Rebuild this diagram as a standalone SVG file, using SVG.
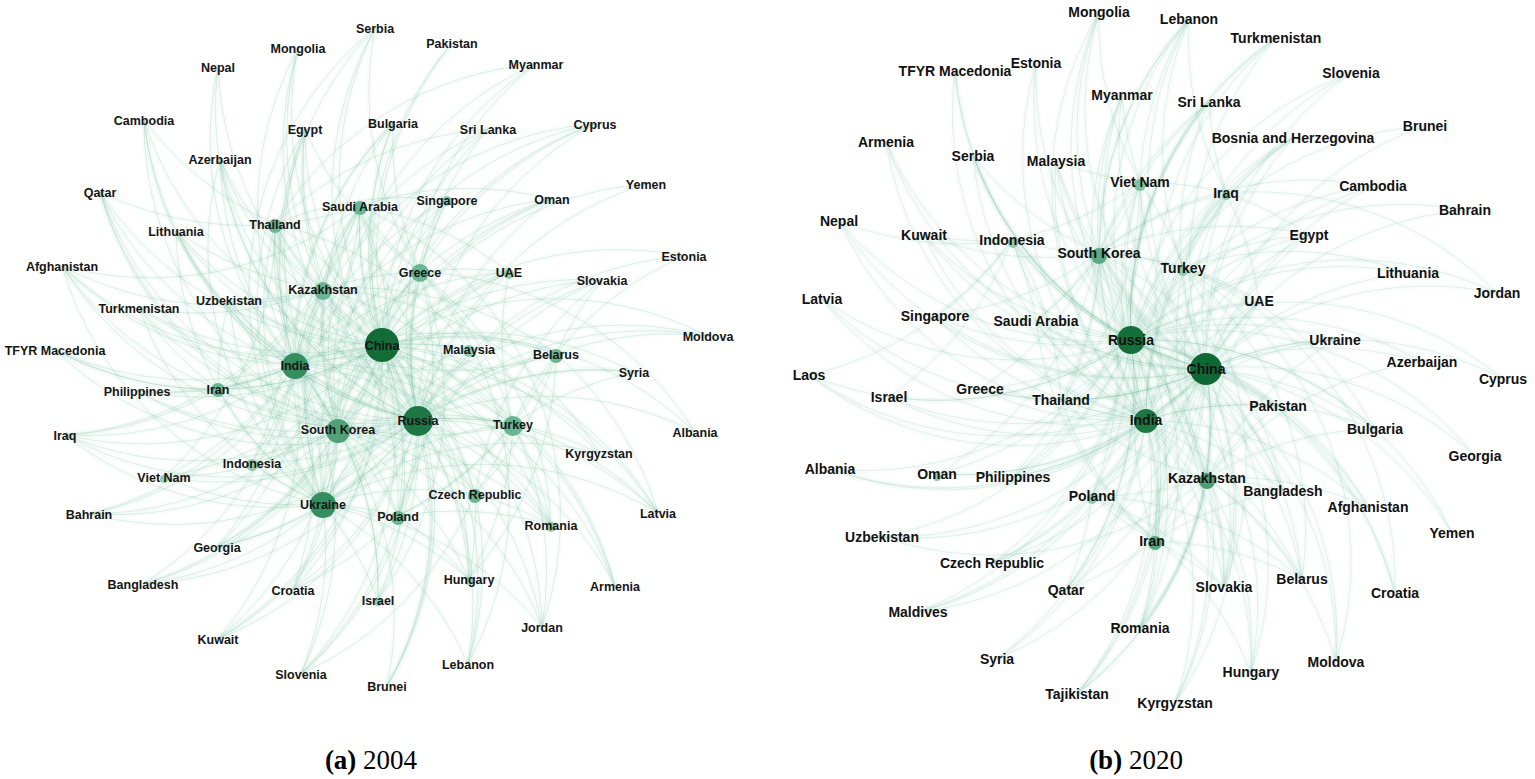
<svg xmlns="http://www.w3.org/2000/svg" xmlns:xlink="http://www.w3.org/1999/xlink" width="1535" height="779" viewBox="0 0 1535 779">
<style>
.bg{fill:#fff}
.ew{fill:none;stroke:#58a884;stroke-opacity:0.24;stroke-width:0.8}
.ew2{fill:none;stroke:#58a884;stroke-opacity:0.2;stroke-width:0.8}
.halo{fill:none;stroke:#8fcdb0;stroke-opacity:0.045;stroke-width:6}
.a{font-family:"Liberation Sans",Arial,sans-serif;font-weight:bold;font-size:12.5px;fill:#151515;text-anchor:middle}
.b{font-family:"Liberation Sans",Arial,sans-serif;font-weight:bold;font-size:14px;fill:#111;text-anchor:middle}
.cap{font-family:"Liberation Serif","Times New Roman",serif;font-size:27px;fill:#000;text-anchor:middle}
.k1{fill:#136b38}.k1b{fill:#1d7644}.k2{fill:#358d60}.k3{fill:#4fa277}.k4{fill:#6ab692}.k5{fill:#90caae}
</style>
<rect class="bg" x="0" y="0" width="1535" height="779"/>
<use xlink:href="#e04" href="#e04" class="halo"/>
<g id="connectors-2004" class="ew"><g id="e04">
<path d="M382 345A340 340 0 0 1 375 28"/><path d="M382 345A340 340 0 0 1 298 48"/><path d="M382 345A340 340 0 0 1 452 43"/><path d="M382 345A340 340 0 0 1 218 67"/><path d="M382 345A340 340 0 0 1 536 64"/><path d="M382 345A340 340 0 0 1 144 120"/><path d="M382 345A340 340 0 0 1 305 129"/><path d="M382 345A340 340 0 0 1 393 123"/><path d="M382 345A340 340 0 0 1 488 129"/><path d="M382 345A340 340 0 0 1 595 124"/><path d="M382 345A340 340 0 0 1 220 159"/><path d="M382 345A340 340 0 0 1 100 192"/><path d="M382 345A340 340 0 0 1 360 206"/><path d="M382 345A340 340 0 0 1 447 200"/><path d="M382 345A340 340 0 0 1 552 199"/><path d="M382 345A340 340 0 0 1 646 184"/><path d="M382 345A340 340 0 0 1 275 224"/><path d="M382 345A340 340 0 0 1 176 231"/><path d="M382 345A340 340 0 0 1 62 266"/><path d="M382 345A340 340 0 0 1 420 272"/><path d="M382 345A340 340 0 0 1 509 272"/><path d="M382 345A340 340 0 0 1 602 280"/><path d="M382 345A340 340 0 0 1 684 256"/><path d="M382 345A340 340 0 0 1 139 308"/><path d="M382 345A340 340 0 0 1 229 300"/><path d="M382 345A340 340 0 0 1 323 289"/><path d="M382 345A340 340 0 0 1 708 336"/><path d="M382 345A340 340 0 0 1 55 350"/><path d="M382 345A340 340 0 0 1 469 349"/><path d="M382 345A340 340 0 0 1 556 354"/><path d="M382 345A340 340 0 0 1 295 365"/><path d="M382 345A340 340 0 0 1 137 391"/><path d="M382 345A340 340 0 0 1 218 389"/><path d="M382 345A340 340 0 0 1 634 372"/><path d="M382 345A340 340 0 0 1 338 429"/><path d="M382 345A340 340 0 0 1 418 420"/><path d="M382 345A340 340 0 0 1 513 424"/><path d="M382 345A340 340 0 0 1 695 432"/><path d="M382 345A340 340 0 0 1 65 435"/><path d="M382 345A340 340 0 0 1 252 463"/><path d="M382 345A340 340 0 0 1 599 453"/><path d="M382 345A340 340 0 0 1 164 477"/><path d="M382 345A340 340 0 0 1 323 504"/><path d="M382 345A340 340 0 0 1 475 494"/><path d="M382 345A340 340 0 0 1 89 514"/><path d="M382 345A340 340 0 0 1 398 516"/><path d="M382 345A340 340 0 0 1 551 525"/><path d="M382 345A340 340 0 0 1 658 513"/><path d="M382 345A340 340 0 0 1 217 547"/><path d="M382 345A340 340 0 0 1 143 584"/><path d="M382 345A340 340 0 0 1 293 590"/><path d="M382 345A340 340 0 0 1 469 579"/><path d="M382 345A340 340 0 0 1 615 586"/><path d="M382 345A340 340 0 0 1 378 600"/><path d="M382 345A340 340 0 0 1 542 627"/><path d="M382 345A340 340 0 0 1 218 639"/><path d="M382 345A340 340 0 0 1 468 664"/><path d="M382 345A340 340 0 0 1 301 674"/><path d="M382 345A340 340 0 0 1 387 686"/>
<path d="M418 420A340 340 0 0 1 375 28"/><path d="M418 420A340 340 0 0 1 298 48"/><path d="M418 420A340 340 0 0 1 452 43"/><path d="M418 420A340 340 0 0 1 218 67"/><path d="M418 420A340 340 0 0 1 536 64"/><path d="M418 420A340 340 0 0 1 144 120"/><path d="M418 420A340 340 0 0 1 305 129"/><path d="M418 420A340 340 0 0 1 393 123"/><path d="M418 420A340 340 0 0 1 488 129"/><path d="M418 420A340 340 0 0 1 595 124"/><path d="M418 420A340 340 0 0 1 220 159"/><path d="M418 420A340 340 0 0 1 100 192"/><path d="M418 420A340 340 0 0 1 360 206"/><path d="M418 420A340 340 0 0 1 447 200"/><path d="M418 420A340 340 0 0 1 552 199"/><path d="M418 420A340 340 0 0 1 646 184"/><path d="M418 420A340 340 0 0 1 275 224"/><path d="M418 420A340 340 0 0 1 176 231"/><path d="M418 420A340 340 0 0 1 62 266"/><path d="M418 420A340 340 0 0 1 420 272"/><path d="M418 420A340 340 0 0 1 509 272"/><path d="M418 420A340 340 0 0 1 602 280"/><path d="M418 420A340 340 0 0 1 684 256"/><path d="M418 420A340 340 0 0 1 139 308"/><path d="M418 420A340 340 0 0 1 229 300"/><path d="M418 420A340 340 0 0 1 323 289"/><path d="M418 420A340 340 0 0 1 708 336"/><path d="M418 420A340 340 0 0 1 55 350"/><path d="M418 420A340 340 0 0 1 469 349"/><path d="M418 420A340 340 0 0 1 556 354"/><path d="M418 420A340 340 0 0 1 295 365"/><path d="M418 420A340 340 0 0 1 137 391"/><path d="M418 420A340 340 0 0 1 218 389"/><path d="M418 420A340 340 0 0 1 634 372"/><path d="M418 420A340 340 0 0 1 338 429"/><path d="M418 420A340 340 0 0 1 513 424"/><path d="M418 420A340 340 0 0 1 695 432"/><path d="M418 420A340 340 0 0 1 65 435"/><path d="M418 420A340 340 0 0 1 252 463"/><path d="M418 420A340 340 0 0 1 599 453"/><path d="M418 420A340 340 0 0 1 164 477"/><path d="M418 420A340 340 0 0 1 323 504"/><path d="M418 420A340 340 0 0 1 475 494"/><path d="M418 420A340 340 0 0 1 89 514"/><path d="M418 420A340 340 0 0 1 398 516"/><path d="M418 420A340 340 0 0 1 551 525"/><path d="M418 420A340 340 0 0 1 658 513"/><path d="M418 420A340 340 0 0 1 217 547"/><path d="M418 420A340 340 0 0 1 143 584"/><path d="M418 420A340 340 0 0 1 293 590"/><path d="M418 420A340 340 0 0 1 469 579"/><path d="M418 420A340 340 0 0 1 615 586"/><path d="M418 420A340 340 0 0 1 378 600"/><path d="M418 420A340 340 0 0 1 542 627"/><path d="M418 420A340 340 0 0 1 218 639"/><path d="M418 420A340 340 0 0 1 468 664"/><path d="M418 420A340 340 0 0 1 301 674"/><path d="M418 420A340 340 0 0 1 387 686"/>
<path d="M295 365A340 340 0 0 1 375 28"/><path d="M295 365A340 340 0 0 1 218 67"/><path d="M295 365A340 340 0 0 1 144 120"/><path d="M295 365A340 340 0 0 1 305 129"/><path d="M295 365A340 340 0 0 1 393 123"/><path d="M295 365A340 340 0 0 1 488 129"/><path d="M295 365A340 340 0 0 1 595 124"/><path d="M295 365A340 340 0 0 1 220 159"/><path d="M295 365A340 340 0 0 1 100 192"/><path d="M295 365A340 340 0 0 1 360 206"/><path d="M295 365A340 340 0 0 1 447 200"/><path d="M295 365A340 340 0 0 1 552 199"/><path d="M295 365A340 340 0 0 1 275 224"/><path d="M295 365A340 340 0 0 1 176 231"/><path d="M295 365A340 340 0 0 1 62 266"/><path d="M295 365A340 340 0 0 1 420 272"/><path d="M295 365A340 340 0 0 1 509 272"/><path d="M295 365A340 340 0 0 1 139 308"/><path d="M295 365A340 340 0 0 1 229 300"/><path d="M295 365A340 340 0 0 1 323 289"/><path d="M295 365A340 340 0 0 1 55 350"/><path d="M295 365A340 340 0 0 1 469 349"/><path d="M295 365A340 340 0 0 1 556 354"/><path d="M295 365A340 340 0 0 1 137 391"/><path d="M295 365A340 340 0 0 1 218 389"/><path d="M295 365A340 340 0 0 1 338 429"/><path d="M295 365A340 340 0 0 1 513 424"/><path d="M295 365A340 340 0 0 1 65 435"/><path d="M295 365A340 340 0 0 1 252 463"/><path d="M295 365A340 340 0 0 1 164 477"/><path d="M295 365A340 340 0 0 1 323 504"/><path d="M295 365A340 340 0 0 1 475 494"/><path d="M295 365A340 340 0 0 1 89 514"/><path d="M295 365A340 340 0 0 1 398 516"/><path d="M295 365A340 340 0 0 1 551 525"/><path d="M295 365A340 340 0 0 1 217 547"/><path d="M295 365A340 340 0 0 1 143 584"/><path d="M295 365A340 340 0 0 1 293 590"/><path d="M295 365A340 340 0 0 1 378 600"/><path d="M295 365A340 340 0 0 1 218 639"/><path d="M295 365A340 340 0 0 1 301 674"/><path d="M295 365A340 340 0 0 1 615 586"/><path d="M295 365A340 340 0 0 1 658 513"/>
<path d="M338 429A340 340 0 0 1 298 48"/><path d="M338 429A340 340 0 0 1 536 64"/><path d="M338 429A340 340 0 0 1 144 120"/><path d="M338 429A340 340 0 0 1 305 129"/><path d="M338 429A340 340 0 0 1 393 123"/><path d="M338 429A340 340 0 0 1 488 129"/><path d="M338 429A340 340 0 0 1 100 192"/><path d="M338 429A340 340 0 0 1 360 206"/><path d="M338 429A340 340 0 0 1 447 200"/><path d="M338 429A340 340 0 0 1 552 199"/><path d="M338 429A340 340 0 0 1 275 224"/><path d="M338 429A340 340 0 0 1 420 272"/><path d="M338 429A340 340 0 0 1 509 272"/><path d="M338 429A340 340 0 0 1 602 280"/><path d="M338 429A340 340 0 0 1 229 300"/><path d="M338 429A340 340 0 0 1 323 289"/><path d="M338 429A340 340 0 0 1 469 349"/><path d="M338 429A340 340 0 0 1 137 391"/><path d="M338 429A340 340 0 0 1 218 389"/><path d="M338 429A340 340 0 0 1 513 424"/><path d="M338 429A340 340 0 0 1 252 463"/><path d="M338 429A340 340 0 0 1 164 477"/><path d="M338 429A340 340 0 0 1 323 504"/><path d="M338 429A340 340 0 0 1 475 494"/><path d="M338 429A340 340 0 0 1 89 514"/><path d="M338 429A340 340 0 0 1 398 516"/><path d="M338 429A340 340 0 0 1 551 525"/><path d="M338 429A340 340 0 0 1 217 547"/><path d="M338 429A340 340 0 0 1 143 584"/><path d="M338 429A340 340 0 0 1 293 590"/><path d="M338 429A340 340 0 0 1 469 579"/><path d="M338 429A340 340 0 0 1 378 600"/><path d="M338 429A340 340 0 0 1 542 627"/><path d="M338 429A340 340 0 0 1 218 639"/><path d="M338 429A340 340 0 0 1 387 686"/><path d="M338 429A340 340 0 0 1 65 435"/>
<path d="M323 504A340 340 0 0 1 375 28"/><path d="M323 504A340 340 0 0 1 305 129"/><path d="M323 504A340 340 0 0 1 393 123"/><path d="M323 504A340 340 0 0 1 595 124"/><path d="M323 504A340 340 0 0 1 220 159"/><path d="M323 504A340 340 0 0 1 360 206"/><path d="M323 504A340 340 0 0 1 275 224"/><path d="M323 504A340 340 0 0 1 176 231"/><path d="M323 504A340 340 0 0 1 62 266"/><path d="M323 504A340 340 0 0 1 420 272"/><path d="M323 504A340 340 0 0 1 509 272"/><path d="M323 504A340 340 0 0 1 139 308"/><path d="M323 504A340 340 0 0 1 229 300"/><path d="M323 504A340 340 0 0 1 323 289"/><path d="M323 504A340 340 0 0 1 708 336"/><path d="M323 504A340 340 0 0 1 556 354"/><path d="M323 504A340 340 0 0 1 218 389"/><path d="M323 504A340 340 0 0 1 634 372"/><path d="M323 504A340 340 0 0 1 513 424"/><path d="M323 504A340 340 0 0 1 65 435"/><path d="M323 504A340 340 0 0 1 252 463"/><path d="M323 504A340 340 0 0 1 164 477"/><path d="M323 504A340 340 0 0 1 475 494"/><path d="M323 504A340 340 0 0 1 398 516"/><path d="M323 504A340 340 0 0 1 217 547"/><path d="M323 504A340 340 0 0 1 293 590"/><path d="M323 504A340 340 0 0 1 469 579"/><path d="M323 504A340 340 0 0 1 378 600"/><path d="M323 504A340 340 0 0 1 542 627"/><path d="M323 504A340 340 0 0 1 658 513"/><path d="M323 504A340 340 0 0 1 301 674"/><path d="M323 504A340 340 0 0 1 468 664"/><path d="M323 504A340 340 0 0 1 143 584"/><path d="M323 504A340 340 0 0 1 599 453"/>
<path d="M323 289A340 340 0 0 1 298 48"/><path d="M323 289A340 340 0 0 1 305 129"/><path d="M323 289A340 340 0 0 1 220 159"/><path d="M323 289A340 340 0 0 1 176 231"/><path d="M323 289A340 340 0 0 1 62 266"/><path d="M323 289A340 340 0 0 1 139 308"/><path d="M323 289A340 340 0 0 1 229 300"/><path d="M323 289A340 340 0 0 1 218 389"/><path d="M323 289A340 340 0 0 1 275 224"/><path d="M323 289A340 340 0 0 1 360 206"/><path d="M323 289A340 340 0 0 1 420 272"/><path d="M323 289A340 340 0 0 1 513 424"/><path d="M323 289A340 340 0 0 1 556 354"/><path d="M323 289A340 340 0 0 1 599 453"/><path d="M323 289A340 340 0 0 1 398 516"/><path d="M323 289A340 340 0 0 1 475 494"/><path d="M323 289A340 340 0 0 1 217 547"/>
<path d="M420 272A340 340 0 0 1 375 28"/><path d="M420 272A340 340 0 0 1 393 123"/><path d="M420 272A340 340 0 0 1 595 124"/><path d="M420 272A340 340 0 0 1 305 129"/><path d="M420 272A340 340 0 0 1 360 206"/><path d="M420 272A340 340 0 0 1 447 200"/><path d="M420 272A340 340 0 0 1 552 199"/><path d="M420 272A340 340 0 0 1 695 432"/><path d="M420 272A340 340 0 0 1 509 272"/><path d="M420 272A340 340 0 0 1 513 424"/><path d="M420 272A340 340 0 0 1 551 525"/><path d="M420 272A340 340 0 0 1 398 516"/><path d="M420 272A340 340 0 0 1 468 664"/><path d="M420 272A340 340 0 0 1 378 600"/><path d="M420 272A340 340 0 0 1 218 389"/>
<path d="M513 424A340 340 0 0 1 220 159"/><path d="M513 424A340 340 0 0 1 100 192"/><path d="M513 424A340 340 0 0 1 360 206"/><path d="M513 424A340 340 0 0 1 509 272"/><path d="M513 424A340 340 0 0 1 556 354"/><path d="M513 424A340 340 0 0 1 634 372"/><path d="M513 424A340 340 0 0 1 551 525"/><path d="M513 424A340 340 0 0 1 658 513"/><path d="M513 424A340 340 0 0 1 615 586"/><path d="M513 424A340 340 0 0 1 542 627"/><path d="M513 424A340 340 0 0 1 475 494"/><path d="M513 424A340 340 0 0 1 398 516"/><path d="M513 424A340 340 0 0 1 469 579"/>
<path d="M556 354A340 340 0 0 1 176 231"/><path d="M556 354A340 340 0 0 1 684 256"/><path d="M556 354A340 340 0 0 1 602 280"/><path d="M556 354A340 340 0 0 1 708 336"/><path d="M556 354A340 340 0 0 1 658 513"/><path d="M556 354A340 340 0 0 1 475 494"/><path d="M556 354A340 340 0 0 1 398 516"/><path d="M556 354A340 340 0 0 1 469 579"/>
<path d="M275 224A340 340 0 0 1 144 120"/><path d="M275 224A340 340 0 0 1 536 64"/><path d="M275 224A340 340 0 0 1 488 129"/><path d="M275 224A340 340 0 0 1 447 200"/><path d="M275 224A340 340 0 0 1 469 349"/><path d="M275 224A340 340 0 0 1 164 477"/><path d="M275 224A340 340 0 0 1 252 463"/><path d="M275 224A340 340 0 0 1 387 686"/>
<path d="M360 206A340 340 0 0 1 100 192"/><path d="M360 206A340 340 0 0 1 552 199"/><path d="M360 206A340 340 0 0 1 509 272"/><path d="M360 206A340 340 0 0 1 62 266"/><path d="M360 206A340 340 0 0 1 65 435"/><path d="M360 206A340 340 0 0 1 89 514"/><path d="M360 206A340 340 0 0 1 218 639"/><path d="M360 206A340 340 0 0 1 542 627"/>
<path d="M218 389A340 340 0 0 1 139 308"/><path d="M218 389A340 340 0 0 1 55 350"/><path d="M218 389A340 340 0 0 1 137 391"/><path d="M218 389A340 340 0 0 1 65 435"/><path d="M218 389A340 340 0 0 1 229 300"/><path d="M218 389A340 340 0 0 1 62 266"/>
<path d="M398 516A340 340 0 0 1 602 280"/><path d="M398 516A340 340 0 0 1 551 525"/><path d="M398 516A340 340 0 0 1 469 579"/><path d="M398 516A340 340 0 0 1 301 674"/><path d="M398 516A340 340 0 0 1 293 590"/>
<path d="M475 494A340 340 0 0 1 602 280"/><path d="M475 494A340 340 0 0 1 551 525"/><path d="M475 494A340 340 0 0 1 469 579"/><path d="M475 494A340 340 0 0 1 468 664"/><path d="M475 494A340 340 0 0 1 301 674"/>
</g></g>
<use xlink:href="#e20" href="#e20" class="halo"/>
<g id="connectors-2020" class="ew2"><g id="e20">
<path d="M1206 369A340 340 0 0 1 1099 12"/><path d="M1206 369A340 340 0 0 1 1189 19"/><path d="M1206 369A340 340 0 0 1 1276 38"/><path d="M1206 369A340 340 0 0 1 955 71"/><path d="M1206 369A340 340 0 0 1 1036 63"/><path d="M1206 369A340 340 0 0 1 1351 73"/><path d="M1206 369A340 340 0 0 1 1122 95"/><path d="M1206 369A340 340 0 0 1 1209 102"/><path d="M1206 369A340 340 0 0 1 886 142"/><path d="M1206 369A340 340 0 0 1 1425 126"/><path d="M1206 369A340 340 0 0 1 1293 138"/><path d="M1206 369A340 340 0 0 1 973 156"/><path d="M1206 369A340 340 0 0 1 1056 161"/><path d="M1206 369A340 340 0 0 1 1140 182"/><path d="M1206 369A340 340 0 0 1 1226 193"/><path d="M1206 369A340 340 0 0 1 1373 186"/><path d="M1206 369A340 340 0 0 1 839 221"/><path d="M1206 369A340 340 0 0 1 1465 210"/><path d="M1206 369A340 340 0 0 1 924 235"/><path d="M1206 369A340 340 0 0 1 1012 240"/><path d="M1206 369A340 340 0 0 1 1099 253"/><path d="M1206 369A340 340 0 0 1 1309 235"/><path d="M1206 369A340 340 0 0 1 1183 268"/><path d="M1206 369A340 340 0 0 1 1408 273"/><path d="M1206 369A340 340 0 0 1 822 299"/><path d="M1206 369A340 340 0 0 1 935 316"/><path d="M1206 369A340 340 0 0 1 1036 321"/><path d="M1206 369A340 340 0 0 1 1259 301"/><path d="M1206 369A340 340 0 0 1 1497 293"/><path d="M1206 369A340 340 0 0 1 1131 340"/><path d="M1206 369A340 340 0 0 1 1335 340"/><path d="M1206 369A340 340 0 0 1 1422 362"/><path d="M1206 369A340 340 0 0 1 809 375"/><path d="M1206 369A340 340 0 0 1 1503 379"/><path d="M1206 369A340 340 0 0 1 889 397"/><path d="M1206 369A340 340 0 0 1 980 389"/><path d="M1206 369A340 340 0 0 1 1061 400"/><path d="M1206 369A340 340 0 0 1 1278 406"/><path d="M1206 369A340 340 0 0 1 1146 420"/><path d="M1206 369A340 340 0 0 1 1375 429"/><path d="M1206 369A340 340 0 0 1 830 469"/><path d="M1206 369A340 340 0 0 1 937 474"/><path d="M1206 369A340 340 0 0 1 1013 477"/><path d="M1206 369A340 340 0 0 1 1475 456"/><path d="M1206 369A340 340 0 0 1 1207 478"/><path d="M1206 369A340 340 0 0 1 1283 491"/><path d="M1206 369A340 340 0 0 1 1092 496"/><path d="M1206 369A340 340 0 0 1 1368 507"/><path d="M1206 369A340 340 0 0 1 882 537"/><path d="M1206 369A340 340 0 0 1 1155 541"/><path d="M1206 369A340 340 0 0 1 1452 533"/><path d="M1206 369A340 340 0 0 1 992 563"/><path d="M1206 369A340 340 0 0 1 1302 579"/><path d="M1206 369A340 340 0 0 1 1066 590"/><path d="M1206 369A340 340 0 0 1 1224 587"/><path d="M1206 369A340 340 0 0 1 1395 593"/><path d="M1206 369A340 340 0 0 1 918 612"/><path d="M1206 369A340 340 0 0 1 1140 628"/><path d="M1206 369A340 340 0 0 1 997 659"/><path d="M1206 369A340 340 0 0 1 1336 662"/><path d="M1206 369A340 340 0 0 1 1251 672"/><path d="M1206 369A340 340 0 0 1 1077 694"/><path d="M1206 369A340 340 0 0 1 1175 703"/>
<path d="M1131 340A340 340 0 0 1 1099 12"/><path d="M1131 340A340 340 0 0 1 1189 19"/><path d="M1131 340A340 340 0 0 1 1276 38"/><path d="M1131 340A340 340 0 0 1 955 71"/><path d="M1131 340A340 340 0 0 1 1036 63"/><path d="M1131 340A340 340 0 0 1 1351 73"/><path d="M1131 340A340 340 0 0 1 1122 95"/><path d="M1131 340A340 340 0 0 1 1209 102"/><path d="M1131 340A340 340 0 0 1 886 142"/><path d="M1131 340A340 340 0 0 1 1425 126"/><path d="M1131 340A340 340 0 0 1 1293 138"/><path d="M1131 340A340 340 0 0 1 973 156"/><path d="M1131 340A340 340 0 0 1 1056 161"/><path d="M1131 340A340 340 0 0 1 1140 182"/><path d="M1131 340A340 340 0 0 1 1226 193"/><path d="M1131 340A340 340 0 0 1 1373 186"/><path d="M1131 340A340 340 0 0 1 839 221"/><path d="M1131 340A340 340 0 0 1 1465 210"/><path d="M1131 340A340 340 0 0 1 924 235"/><path d="M1131 340A340 340 0 0 1 1012 240"/><path d="M1131 340A340 340 0 0 1 1099 253"/><path d="M1131 340A340 340 0 0 1 1309 235"/><path d="M1131 340A340 340 0 0 1 1183 268"/><path d="M1131 340A340 340 0 0 1 1408 273"/><path d="M1131 340A340 340 0 0 1 822 299"/><path d="M1131 340A340 340 0 0 1 935 316"/><path d="M1131 340A340 340 0 0 1 1036 321"/><path d="M1131 340A340 340 0 0 1 1259 301"/><path d="M1131 340A340 340 0 0 1 1497 293"/><path d="M1131 340A340 340 0 0 1 1335 340"/><path d="M1131 340A340 340 0 0 1 1422 362"/><path d="M1131 340A340 340 0 0 1 809 375"/><path d="M1131 340A340 340 0 0 1 1503 379"/><path d="M1131 340A340 340 0 0 1 889 397"/><path d="M1131 340A340 340 0 0 1 980 389"/><path d="M1131 340A340 340 0 0 1 1061 400"/><path d="M1131 340A340 340 0 0 1 1278 406"/><path d="M1131 340A340 340 0 0 1 1146 420"/><path d="M1131 340A340 340 0 0 1 1375 429"/><path d="M1131 340A340 340 0 0 1 830 469"/><path d="M1131 340A340 340 0 0 1 937 474"/><path d="M1131 340A340 340 0 0 1 1013 477"/><path d="M1131 340A340 340 0 0 1 1475 456"/><path d="M1131 340A340 340 0 0 1 1207 478"/><path d="M1131 340A340 340 0 0 1 1283 491"/><path d="M1131 340A340 340 0 0 1 1092 496"/><path d="M1131 340A340 340 0 0 1 1368 507"/><path d="M1131 340A340 340 0 0 1 882 537"/><path d="M1131 340A340 340 0 0 1 1155 541"/><path d="M1131 340A340 340 0 0 1 1452 533"/><path d="M1131 340A340 340 0 0 1 992 563"/><path d="M1131 340A340 340 0 0 1 1302 579"/><path d="M1131 340A340 340 0 0 1 1066 590"/><path d="M1131 340A340 340 0 0 1 1224 587"/><path d="M1131 340A340 340 0 0 1 1395 593"/><path d="M1131 340A340 340 0 0 1 918 612"/><path d="M1131 340A340 340 0 0 1 1140 628"/><path d="M1131 340A340 340 0 0 1 997 659"/><path d="M1131 340A340 340 0 0 1 1336 662"/><path d="M1131 340A340 340 0 0 1 1251 672"/><path d="M1131 340A340 340 0 0 1 1077 694"/><path d="M1131 340A340 340 0 0 1 1175 703"/>
<path d="M1146 420A340 340 0 0 1 1099 12"/><path d="M1146 420A340 340 0 0 1 1189 19"/><path d="M1146 420A340 340 0 0 1 1276 38"/><path d="M1146 420A340 340 0 0 1 955 71"/><path d="M1146 420A340 340 0 0 1 1036 63"/><path d="M1146 420A340 340 0 0 1 1122 95"/><path d="M1146 420A340 340 0 0 1 1209 102"/><path d="M1146 420A340 340 0 0 1 886 142"/><path d="M1146 420A340 340 0 0 1 1293 138"/><path d="M1146 420A340 340 0 0 1 973 156"/><path d="M1146 420A340 340 0 0 1 1056 161"/><path d="M1146 420A340 340 0 0 1 1140 182"/><path d="M1146 420A340 340 0 0 1 1226 193"/><path d="M1146 420A340 340 0 0 1 1373 186"/><path d="M1146 420A340 340 0 0 1 839 221"/><path d="M1146 420A340 340 0 0 1 924 235"/><path d="M1146 420A340 340 0 0 1 1012 240"/><path d="M1146 420A340 340 0 0 1 1099 253"/><path d="M1146 420A340 340 0 0 1 1309 235"/><path d="M1146 420A340 340 0 0 1 1183 268"/><path d="M1146 420A340 340 0 0 1 822 299"/><path d="M1146 420A340 340 0 0 1 935 316"/><path d="M1146 420A340 340 0 0 1 1036 321"/><path d="M1146 420A340 340 0 0 1 1259 301"/><path d="M1146 420A340 340 0 0 1 1335 340"/><path d="M1146 420A340 340 0 0 1 809 375"/><path d="M1146 420A340 340 0 0 1 889 397"/><path d="M1146 420A340 340 0 0 1 980 389"/><path d="M1146 420A340 340 0 0 1 1061 400"/><path d="M1146 420A340 340 0 0 1 1278 406"/><path d="M1146 420A340 340 0 0 1 1375 429"/><path d="M1146 420A340 340 0 0 1 830 469"/><path d="M1146 420A340 340 0 0 1 937 474"/><path d="M1146 420A340 340 0 0 1 1013 477"/><path d="M1146 420A340 340 0 0 1 1207 478"/><path d="M1146 420A340 340 0 0 1 1283 491"/><path d="M1146 420A340 340 0 0 1 1092 496"/><path d="M1146 420A340 340 0 0 1 1368 507"/><path d="M1146 420A340 340 0 0 1 882 537"/><path d="M1146 420A340 340 0 0 1 1155 541"/><path d="M1146 420A340 340 0 0 1 992 563"/><path d="M1146 420A340 340 0 0 1 1302 579"/><path d="M1146 420A340 340 0 0 1 1066 590"/><path d="M1146 420A340 340 0 0 1 1224 587"/><path d="M1146 420A340 340 0 0 1 918 612"/><path d="M1146 420A340 340 0 0 1 1140 628"/><path d="M1146 420A340 340 0 0 1 997 659"/><path d="M1146 420A340 340 0 0 1 1251 672"/><path d="M1146 420A340 340 0 0 1 1077 694"/><path d="M1146 420A340 340 0 0 1 1175 703"/>
<path d="M1207 478A340 340 0 0 1 1276 38"/><path d="M1207 478A340 340 0 0 1 1226 193"/><path d="M1207 478A340 340 0 0 1 1183 268"/><path d="M1207 478A340 340 0 0 1 1259 301"/><path d="M1207 478A340 340 0 0 1 1335 340"/><path d="M1207 478A340 340 0 0 1 1422 362"/><path d="M1207 478A340 340 0 0 1 1278 406"/><path d="M1207 478A340 340 0 0 1 1375 429"/><path d="M1207 478A340 340 0 0 1 1283 491"/><path d="M1207 478A340 340 0 0 1 1368 507"/><path d="M1207 478A340 340 0 0 1 1155 541"/><path d="M1207 478A340 340 0 0 1 1302 579"/><path d="M1207 478A340 340 0 0 1 1224 587"/><path d="M1207 478A340 340 0 0 1 1140 628"/><path d="M1207 478A340 340 0 0 1 1251 672"/><path d="M1207 478A340 340 0 0 1 1175 703"/><path d="M1207 478A340 340 0 0 1 1077 694"/><path d="M1207 478A340 340 0 0 1 1336 662"/><path d="M1207 478A340 340 0 0 1 1092 496"/><path d="M1207 478A340 340 0 0 1 1061 400"/><path d="M1207 478A340 340 0 0 1 882 537"/>
<path d="M1099 253A340 340 0 0 1 1099 12"/><path d="M1099 253A340 340 0 0 1 1189 19"/><path d="M1099 253A340 340 0 0 1 1122 95"/><path d="M1099 253A340 340 0 0 1 1209 102"/><path d="M1099 253A340 340 0 0 1 973 156"/><path d="M1099 253A340 340 0 0 1 1056 161"/><path d="M1099 253A340 340 0 0 1 1140 182"/><path d="M1099 253A340 340 0 0 1 1226 193"/><path d="M1099 253A340 340 0 0 1 924 235"/><path d="M1099 253A340 340 0 0 1 1012 240"/><path d="M1099 253A340 340 0 0 1 935 316"/><path d="M1099 253A340 340 0 0 1 1036 321"/><path d="M1099 253A340 340 0 0 1 1183 268"/><path d="M1099 253A340 340 0 0 1 1259 301"/><path d="M1099 253A340 340 0 0 1 980 389"/><path d="M1099 253A340 340 0 0 1 1061 400"/><path d="M1099 253A340 340 0 0 1 1013 477"/><path d="M1099 253A340 340 0 0 1 1092 496"/><path d="M1099 253A340 340 0 0 1 1155 541"/><path d="M1099 253A340 340 0 0 1 1283 491"/><path d="M1099 253A340 340 0 0 1 1224 587"/><path d="M1099 253A340 340 0 0 1 1140 628"/><path d="M1099 253A340 340 0 0 1 937 474"/><path d="M1099 253A340 340 0 0 1 1309 235"/><path d="M1099 253A340 340 0 0 1 1373 186"/>
<path d="M1140 182A340 340 0 0 1 1189 19"/><path d="M1140 182A340 340 0 0 1 1122 95"/><path d="M1140 182A340 340 0 0 1 1209 102"/><path d="M1140 182A340 340 0 0 1 1056 161"/><path d="M1140 182A340 340 0 0 1 1226 193"/><path d="M1140 182A340 340 0 0 1 1012 240"/><path d="M1140 182A340 340 0 0 1 1183 268"/><path d="M1140 182A340 340 0 0 1 1061 400"/><path d="M1140 182A340 340 0 0 1 1013 477"/><path d="M1140 182A340 340 0 0 1 1036 321"/><path d="M1140 182A340 340 0 0 1 1099 12"/>
<path d="M1155 541A340 340 0 0 1 1226 193"/><path d="M1155 541A340 340 0 0 1 1259 301"/><path d="M1155 541A340 340 0 0 1 1036 321"/><path d="M1155 541A340 340 0 0 1 1061 400"/><path d="M1155 541A340 340 0 0 1 1092 496"/><path d="M1155 541A340 340 0 0 1 1066 590"/><path d="M1155 541A340 340 0 0 1 1140 628"/><path d="M1155 541A340 340 0 0 1 1283 491"/><path d="M1155 541A340 340 0 0 1 1302 579"/><path d="M1155 541A340 340 0 0 1 1224 587"/><path d="M1155 541A340 340 0 0 1 1077 694"/>
<path d="M1183 268A340 340 0 0 1 1189 19"/><path d="M1183 268A340 340 0 0 1 1351 73"/><path d="M1183 268A340 340 0 0 1 1293 138"/><path d="M1183 268A340 340 0 0 1 1309 235"/><path d="M1183 268A340 340 0 0 1 1408 273"/><path d="M1183 268A340 340 0 0 1 1375 429"/><path d="M1183 268A340 340 0 0 1 1336 662"/><path d="M1183 268A340 340 0 0 1 1302 579"/><path d="M1183 268A340 340 0 0 1 1224 587"/><path d="M1183 268A340 340 0 0 1 1395 593"/>
<path d="M1012 240A340 340 0 0 1 839 221"/><path d="M1012 240A340 340 0 0 1 924 235"/><path d="M1012 240A340 340 0 0 1 935 316"/><path d="M1012 240A340 340 0 0 1 1036 321"/><path d="M1012 240A340 340 0 0 1 889 397"/><path d="M1012 240A340 340 0 0 1 809 375"/><path d="M1012 240A340 340 0 0 1 1061 400"/>
<path d="M1092 496A340 340 0 0 1 992 563"/><path d="M1092 496A340 340 0 0 1 1066 590"/><path d="M1092 496A340 340 0 0 1 918 612"/><path d="M1092 496A340 340 0 0 1 1224 587"/><path d="M1092 496A340 340 0 0 1 1302 579"/><path d="M1092 496A340 340 0 0 1 1251 672"/>
<path d="M1226 193A340 340 0 0 1 1189 19"/><path d="M1226 193A340 340 0 0 1 1209 102"/><path d="M1226 193A340 340 0 0 1 1293 138"/><path d="M1226 193A340 340 0 0 1 1309 235"/><path d="M1226 193A340 340 0 0 1 1259 301"/><path d="M1226 193A340 340 0 0 1 1497 293"/>
</g></g>
<g id="nodes-2004">
<g id="n04-serbia"><text class="a" x="375" y="32.5">Serbia</text></g>
<g id="n04-mongolia"><text class="a" x="298" y="52.5">Mongolia</text></g>
<g id="n04-pakistan"><text class="a" x="452" y="47.5">Pakistan</text></g>
<g id="n04-nepal"><text class="a" x="218" y="71.5">Nepal</text></g>
<g id="n04-myanmar"><text class="a" x="536" y="68.5">Myanmar</text></g>
<g id="n04-cambodia"><text class="a" x="144" y="124.5">Cambodia</text></g>
<g id="n04-egypt"><text class="a" x="305" y="133.5">Egypt</text></g>
<g id="n04-bulgaria"><text class="a" x="393" y="127.5">Bulgaria</text></g>
<g id="n04-srilanka"><text class="a" x="488" y="133.5">Sri Lanka</text></g>
<g id="n04-cyprus"><text class="a" x="595" y="128.5">Cyprus</text></g>
<g id="n04-azerbaijan"><text class="a" x="220" y="163.5">Azerbaijan</text></g>
<g id="n04-qatar"><text class="a" x="100" y="196.5">Qatar</text></g>
<g id="n04-saudiarabia"><circle class="k4" cx="360" cy="208" r="7"/><text class="a" x="360" y="210.5">Saudi Arabia</text></g>
<g id="n04-singapore"><circle class="k5" cx="447" cy="201" r="5"/><text class="a" x="447" y="204.5">Singapore</text></g>
<g id="n04-oman"><text class="a" x="552" y="203.5">Oman</text></g>
<g id="n04-yemen"><text class="a" x="646" y="188.5">Yemen</text></g>
<g id="n04-thailand"><circle class="k4" cx="275" cy="226" r="7"/><text class="a" x="275" y="228.5">Thailand</text></g>
<g id="n04-lithuania"><text class="a" x="176" y="235.5">Lithuania</text></g>
<g id="n04-afghanistan"><text class="a" x="62" y="270.5">Afghanistan</text></g>
<g id="n04-greece"><circle class="k4" cx="420" cy="273" r="9"/><text class="a" x="420" y="276.5">Greece</text></g>
<g id="n04-uae"><circle class="k5" cx="509" cy="274" r="5"/><text class="a" x="509" y="276.5">UAE</text></g>
<g id="n04-slovakia"><text class="a" x="602" y="284.5">Slovakia</text></g>
<g id="n04-estonia"><text class="a" x="684" y="260.5">Estonia</text></g>
<g id="n04-turkmenistan"><text class="a" x="139" y="312.5">Turkmenistan</text></g>
<g id="n04-uzbekistan"><text class="a" x="229" y="304.5">Uzbekistan</text></g>
<g id="n04-kazakhstan"><circle class="k4" cx="323" cy="291" r="9"/><text class="a" x="323" y="293.5">Kazakhstan</text></g>
<g id="n04-moldova"><text class="a" x="708" y="340.5">Moldova</text></g>
<g id="n04-tfyrmacedonia"><text class="a" x="55" y="354.5">TFYR Macedonia</text></g>
<g id="n04-china"><circle class="k1" cx="382" cy="345" r="17"/><text class="a" x="382" y="349.5">China</text></g>
<g id="n04-malaysia"><circle class="k5" cx="469" cy="351" r="6"/><text class="a" x="469" y="353.5">Malaysia</text></g>
<g id="n04-belarus"><circle class="k4" cx="556" cy="356" r="7"/><text class="a" x="556" y="358.5">Belarus</text></g>
<g id="n04-india"><circle class="k2" cx="295" cy="366" r="13"/><text class="a" x="295" y="369.5">India</text></g>
<g id="n04-philippines"><text class="a" x="137" y="395.5">Philippines</text></g>
<g id="n04-iran"><circle class="k4" cx="218" cy="390" r="7"/><text class="a" x="218" y="393.5">Iran</text></g>
<g id="n04-syria"><text class="a" x="634" y="376.5">Syria</text></g>
<g id="n04-southkorea"><circle class="k3" cx="338" cy="431" r="12"/><text class="a" x="338" y="433.5">South Korea</text></g>
<g id="n04-russia"><circle class="k1b" cx="418" cy="421" r="15"/><text class="a" x="418" y="424.5">Russia</text></g>
<g id="n04-turkey"><circle class="k4" cx="513" cy="426" r="10"/><text class="a" x="513" y="428.5">Turkey</text></g>
<g id="n04-albania"><text class="a" x="695" y="436.5">Albania</text></g>
<g id="n04-iraq"><text class="a" x="65" y="439.5">Iraq</text></g>
<g id="n04-indonesia"><circle class="k5" cx="252" cy="465" r="6"/><text class="a" x="252" y="467.5">Indonesia</text></g>
<g id="n04-kyrgyzstan"><text class="a" x="599" y="457.5">Kyrgyzstan</text></g>
<g id="n04-vietnam"><circle class="k5" cx="164" cy="479" r="4"/><text class="a" x="164" y="481.5">Viet Nam</text></g>
<g id="n04-ukraine"><circle class="k2" cx="323" cy="505" r="13"/><text class="a" x="323" y="508.5">Ukraine</text></g>
<g id="n04-czechrepublic"><circle class="k4" cx="475" cy="496" r="7"/><text class="a" x="475" y="498.5">Czech Republic</text></g>
<g id="n04-bahrain"><text class="a" x="89" y="518.5">Bahrain</text></g>
<g id="n04-poland"><circle class="k4" cx="398" cy="518" r="7"/><text class="a" x="398" y="520.5">Poland</text></g>
<g id="n04-romania"><circle class="k5" cx="551" cy="527" r="5"/><text class="a" x="551" y="529.5">Romania</text></g>
<g id="n04-latvia"><text class="a" x="658" y="517.5">Latvia</text></g>
<g id="n04-georgia"><text class="a" x="217" y="551.5">Georgia</text></g>
<g id="n04-bangladesh"><text class="a" x="143" y="588.5">Bangladesh</text></g>
<g id="n04-croatia"><text class="a" x="293" y="594.5">Croatia</text></g>
<g id="n04-hungary"><circle class="k5" cx="469" cy="581" r="4"/><text class="a" x="469" y="583.5">Hungary</text></g>
<g id="n04-armenia"><text class="a" x="615" y="590.5">Armenia</text></g>
<g id="n04-israel"><circle class="k5" cx="378" cy="602" r="4"/><text class="a" x="378" y="604.5">Israel</text></g>
<g id="n04-jordan"><text class="a" x="542" y="631.5">Jordan</text></g>
<g id="n04-kuwait"><text class="a" x="218" y="643.5">Kuwait</text></g>
<g id="n04-lebanon"><text class="a" x="468" y="668.5">Lebanon</text></g>
<g id="n04-slovenia"><text class="a" x="301" y="678.5">Slovenia</text></g>
<g id="n04-brunei"><text class="a" x="387" y="690.5">Brunei</text></g>
</g>
<g id="nodes-2020">
<g id="n20-mongolia"><text class="b" x="1099" y="17">Mongolia</text></g>
<g id="n20-lebanon"><text class="b" x="1189" y="24">Lebanon</text></g>
<g id="n20-turkmenistan"><text class="b" x="1276" y="43">Turkmenistan</text></g>
<g id="n20-tfyrmacedonia"><text class="b" x="955" y="76">TFYR Macedonia</text></g>
<g id="n20-estonia"><text class="b" x="1036" y="68">Estonia</text></g>
<g id="n20-slovenia"><text class="b" x="1351" y="78">Slovenia</text></g>
<g id="n20-myanmar"><text class="b" x="1122" y="100">Myanmar</text></g>
<g id="n20-srilanka"><text class="b" x="1209" y="107">Sri Lanka</text></g>
<g id="n20-armenia"><text class="b" x="886" y="147">Armenia</text></g>
<g id="n20-brunei"><text class="b" x="1425" y="131">Brunei</text></g>
<g id="n20-bosnia"><text class="b" x="1293" y="143">Bosnia and Herzegovina</text></g>
<g id="n20-serbia"><text class="b" x="973" y="161">Serbia</text></g>
<g id="n20-malaysia"><text class="b" x="1056" y="166">Malaysia</text></g>
<g id="n20-vietnam"><circle cx="1140" cy="185" r="6" fill="#7cc2a0"/><text class="b" x="1140" y="187">Viet Nam</text></g>
<g id="n20-iraq"><circle class="k5" cx="1226" cy="196" r="4"/><text class="b" x="1226" y="198">Iraq</text></g>
<g id="n20-cambodia"><text class="b" x="1373" y="191">Cambodia</text></g>
<g id="n20-nepal"><text class="b" x="839" y="226">Nepal</text></g>
<g id="n20-bahrain"><text class="b" x="1465" y="215">Bahrain</text></g>
<g id="n20-kuwait"><text class="b" x="924" y="240">Kuwait</text></g>
<g id="n20-indonesia"><circle class="k5" cx="1013" cy="243" r="5"/><text class="b" x="1012" y="245">Indonesia</text></g>
<g id="n20-southkorea"><circle cx="1099" cy="256" r="8" fill="#5aab83"/><text class="b" x="1099" y="258">South Korea</text></g>
<g id="n20-egypt"><text class="b" x="1309" y="240">Egypt</text></g>
<g id="n20-turkey"><circle class="k5" cx="1183" cy="271" r="5"/><text class="b" x="1183" y="273">Turkey</text></g>
<g id="n20-lithuania"><text class="b" x="1408" y="278">Lithuania</text></g>
<g id="n20-latvia"><text class="b" x="822" y="304">Latvia</text></g>
<g id="n20-singapore"><text class="b" x="935" y="321">Singapore</text></g>
<g id="n20-saudiarabia"><text class="b" x="1036" y="326">Saudi Arabia</text></g>
<g id="n20-uae"><text class="b" x="1259" y="306">UAE</text></g>
<g id="n20-jordan"><text class="b" x="1497" y="298">Jordan</text></g>
<g id="n20-russia"><circle cx="1131" cy="340" r="14" fill="#147038"/><text class="b" x="1131" y="345">Russia</text></g>
<g id="n20-china"><circle cx="1206" cy="369" r="16" fill="#0d6833"/><text class="b" x="1206" y="374">China</text></g>
<g id="n20-ukraine"><text class="b" x="1335" y="345">Ukraine</text></g>
<g id="n20-azerbaijan"><text class="b" x="1422" y="367">Azerbaijan</text></g>
<g id="n20-laos"><text class="b" x="809" y="380">Laos</text></g>
<g id="n20-cyprus"><text class="b" x="1503" y="384">Cyprus</text></g>
<g id="n20-israel"><text class="b" x="889" y="402">Israel</text></g>
<g id="n20-greece"><text class="b" x="980" y="394">Greece</text></g>
<g id="n20-thailand"><text class="b" x="1061" y="405">Thailand</text></g>
<g id="n20-pakistan"><text class="b" x="1278" y="411">Pakistan</text></g>
<g id="n20-india"><circle cx="1146" cy="421" r="12" fill="#1c7743"/><text class="b" x="1146" y="425">India</text></g>
<g id="n20-bulgaria"><text class="b" x="1375" y="434">Bulgaria</text></g>
<g id="n20-albania"><text class="b" x="830" y="474">Albania</text></g>
<g id="n20-oman"><circle class="k5" cx="937" cy="477" r="4"/><text class="b" x="937" y="479">Oman</text></g>
<g id="n20-philippines"><text class="b" x="1013" y="482">Philippines</text></g>
<g id="n20-georgia"><text class="b" x="1475" y="461">Georgia</text></g>
<g id="n20-kazakhstan"><circle cx="1207" cy="481" r="8" fill="#4a9f73"/><text class="b" x="1207" y="483">Kazakhstan</text></g>
<g id="n20-bangladesh"><text class="b" x="1283" y="496">Bangladesh</text></g>
<g id="n20-poland"><circle class="k5" cx="1092" cy="499" r="5"/><text class="b" x="1092" y="501">Poland</text></g>
<g id="n20-afghanistan"><text class="b" x="1368" y="512">Afghanistan</text></g>
<g id="n20-uzbekistan"><text class="b" x="882" y="542">Uzbekistan</text></g>
<g id="n20-iran"><circle cx="1155" cy="543" r="7" fill="#56a87f"/><text class="b" x="1152" y="546">Iran</text></g>
<g id="n20-yemen"><text class="b" x="1452" y="538">Yemen</text></g>
<g id="n20-czechrepublic"><text class="b" x="992" y="568">Czech Republic</text></g>
<g id="n20-belarus"><text class="b" x="1302" y="584">Belarus</text></g>
<g id="n20-qatar"><text class="b" x="1066" y="595">Qatar</text></g>
<g id="n20-slovakia"><text class="b" x="1224" y="592">Slovakia</text></g>
<g id="n20-croatia"><text class="b" x="1395" y="598">Croatia</text></g>
<g id="n20-maldives"><text class="b" x="918" y="617">Maldives</text></g>
<g id="n20-romania"><text class="b" x="1140" y="633">Romania</text></g>
<g id="n20-syria"><text class="b" x="997" y="664">Syria</text></g>
<g id="n20-moldova"><text class="b" x="1336" y="667">Moldova</text></g>
<g id="n20-hungary"><text class="b" x="1251" y="677">Hungary</text></g>
<g id="n20-tajikistan"><text class="b" x="1077" y="699">Tajikistan</text></g>
<g id="n20-kyrgyzstan"><text class="b" x="1175" y="708">Kyrgyzstan</text></g>
</g>
<g id="captions">
<text class="cap" x="371" y="769"><tspan font-weight="bold">(a)</tspan> 2004</text>
<text class="cap" x="1136" y="769"><tspan font-weight="bold">(b)</tspan> 2020</text>
</g>
</svg>
